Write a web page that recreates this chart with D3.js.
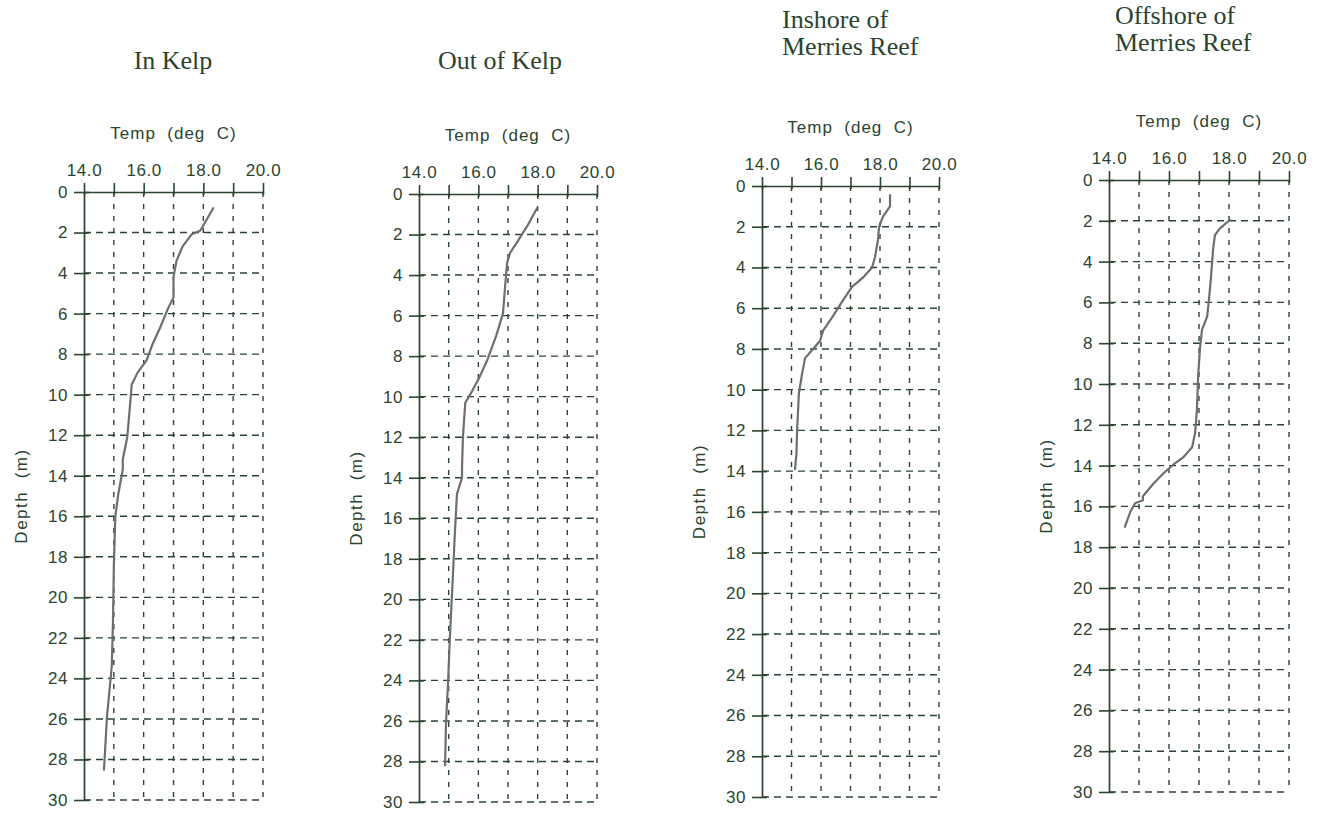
<!DOCTYPE html>
<html>
<head>
<meta charset="utf-8">
<script src="https://cdn.jsdelivr.net/npm/d3@7"></script>
<style>
  html, body { margin: 0; padding: 0; background: #ffffff; }
  svg { display: block; }
</style>
</head>
<body>
<svg id="chart" width="1322" height="813"></svg>
<script>
// Temperature profiles (temperature in deg C against depth in m) at four stations.
const tempTicks = [14, 15, 16, 17, 18, 19, 20];
const tempLabelTicks = [14, 16, 18, 20];
const depthTicks = [0, 2, 4, 6, 8, 10, 12, 14, 16, 18, 20, 22, 24, 26, 28, 30];

const stationTitles = [
  ["In Kelp"],
  ["Out of Kelp"],
  ["Inshore of", "Merries Reef"],
  ["Offshore of", "Merries Reef"]
];

// In Kelp
const inKelpDepth = [0.8, 1.9, 2.1, 2.7, 3.4, 4.2, 5.2, 5.8, 6.7, 7.5, 8.3, 8.9, 9.5, 10.4, 12.1, 13.2, 13.7, 14.9, 16.0, 18.5, 21.3, 23.4, 25.9, 28.5];
const inKelpTemp  = [18.33, 17.9, 17.6, 17.3, 17.1, 17.0, 17.0, 16.8, 16.55, 16.3, 16.1, 15.8, 15.6, 15.55, 15.45, 15.3, 15.3, 15.15, 15.05, 15.0, 14.97, 14.93, 14.77, 14.67];

// Out of Kelp
const outKelpDepth = [0.7, 1.6, 2.3, 2.9, 3.4, 4.6, 5.9, 7.0, 8.2, 9.0, 9.7, 10.3, 12.0, 13.5, 14.0, 14.8, 16.7, 18.9, 21.9, 24.1, 26.1, 28.2];
const outKelpTemp  = [17.98, 17.64, 17.34, 17.07, 16.97, 16.9, 16.83, 16.6, 16.3, 16.05, 15.8, 15.56, 15.48, 15.45, 15.45, 15.28, 15.21, 15.14, 15.04, 14.98, 14.91, 14.88];

// Inshore of Merries Reef
const inshoreDepth = [0.45, 1.0, 1.5, 2.0, 2.65, 3.5, 4.0, 4.5, 4.95, 5.6, 6.4, 7.1, 7.6, 8.0, 8.45, 9.2, 10.2, 12.0, 13.1, 13.9];
const inshoreTemp  = [18.34, 18.34, 18.1, 17.97, 17.93, 17.83, 17.73, 17.42, 17.05, 16.75, 16.4, 16.07, 15.97, 15.73, 15.46, 15.36, 15.25, 15.19, 15.17, 15.12];

// Offshore of Merries Reef
const offshoreDepth = [1.96, 2.37, 2.7, 3.4, 4.75, 5.9, 6.7, 7.35, 8.3, 9.65, 11.3, 12.4, 13.1, 13.6, 13.97, 14.4, 14.9, 15.5, 15.7, 15.85, 16.3, 17.0];
const offshoreTemp  = [18.03, 17.7, 17.53, 17.47, 17.4, 17.33, 17.27, 17.1, 17.03, 16.97, 16.93, 16.87, 16.77, 16.47, 16.13, 15.8, 15.47, 15.13, 15.13, 14.87, 14.7, 14.53];

const profiles = [
  { temp: inKelpTemp,   depth: inKelpDepth },
  { temp: outKelpTemp,  depth: outKelpDepth },
  { temp: inshoreTemp,  depth: inshoreDepth },
  { temp: offshoreTemp, depth: offshoreDepth }
];

// Panel frames on the page
const frames = [
  { x0: 84,   x1: 263,  y0: 192, y1: 800, title: { x: 173, y: 69, anchor: "middle" } },
  { x0: 419,  x1: 597,  y0: 194, y1: 802, title: { x: 500, y: 69, anchor: "middle" } },
  { x0: 762,  x1: 939,  y0: 186, y1: 797, title: { x: 782, y: 28, anchor: "start" } },
  { x0: 1109, x1: 1289, y0: 180, y1: 792, title: { x: 1115, y: 24, anchor: "start" } }
];

const ink = "#2b4430";
const sansFont = "'Liberation Sans', Arial, sans-serif";
const serifFont = "'Liberation Serif', 'Times New Roman', serif";

const svg = d3.select("#chart");

frames.forEach((f, i) => {
  const x = d3.scaleLinear().domain([14, 20]).range([f.x0, f.x1]);
  const y = d3.scaleLinear().domain([0, 30]).range([f.y0, f.y1]);
  const g = svg.append("g");

  // Title
  const title = g.append("text")
    .attr("x", f.title.x)
    .attr("y", f.title.y)
    .attr("text-anchor", f.title.anchor)
    .attr("fill", ink)
    .style("font-family", serifFont)
    .style("font-size", "26px");
  stationTitles[i].forEach((line, k) => {
    title.append("tspan")
      .attr("x", f.title.x)
      .attr("dy", k === 0 ? 0 : 27)
      .text(line);
  });

  // Dashed grid
  g.append("g").selectAll("line")
    .data(tempTicks.filter(t => t > 14))
    .join("line")
    .attr("x1", d => x(d)).attr("x2", d => x(d))
    .attr("y1", f.y0).attr("y2", f.y1)
    .attr("stroke", ink).attr("stroke-width", 1.4)
    .attr("stroke-dasharray", "5,7");

  g.append("g").selectAll("line")
    .data(depthTicks.filter(d => d > 0))
    .join("line")
    .attr("x1", f.x0).attr("x2", f.x1)
    .attr("y1", d => y(d)).attr("y2", d => y(d))
    .attr("stroke", ink).attr("stroke-width", 1.4)
    .attr("stroke-dasharray", "7,5");

  // Top temperature axis
  const topAxis = g.append("g")
    .attr("transform", `translate(0,${f.y0})`)
    .call(d3.axisTop(x)
      .tickValues(tempTicks)
      .tickSize(9)
      .tickSizeOuter(0)
      .tickPadding(7)
      .tickFormat(d => tempLabelTicks.includes(d) ? d3.format(".1f")(d) : ""));
  topAxis.select(".domain").attr("stroke", ink).attr("stroke-width", 1.7);
  topAxis.selectAll(".tick line").attr("stroke", ink).attr("stroke-width", 1.6).attr("y1", 3);
  topAxis.selectAll(".tick text")
    .attr("fill", ink)
    .style("font-family", sansFont)
    .style("font-size", "17px")
    .style("letter-spacing", "0.6px");

  // Left depth axis
  const leftAxis = g.append("g")
    .attr("transform", `translate(${f.x0},0)`)
    .call(d3.axisLeft(y)
      .tickValues(depthTicks)
      .tickSize(10)
      .tickSizeOuter(0)
      .tickPadding(6)
      .tickFormat(d3.format("d")));
  leftAxis.select(".domain").attr("stroke", ink).attr("stroke-width", 1.7);
  leftAxis.selectAll(".tick line").attr("stroke", ink).attr("stroke-width", 1.6).attr("x1", 5);
  leftAxis.selectAll(".tick text")
    .attr("fill", ink)
    .style("font-family", sansFont)
    .style("font-size", "17px")
    .style("letter-spacing", "0.6px");

  // Axis titles
  g.append("text")
    .attr("x", (f.x0 + f.x1) / 2)
    .attr("y", f.y0 - 53)
    .attr("text-anchor", "middle")
    .attr("fill", ink)
    .attr("xml:space", "preserve")
    .style("white-space", "pre")
    .style("font-family", sansFont)
    .style("font-size", "17px")
    .style("letter-spacing", "1px")
    .text("Temp  (deg  C)");

  g.append("text")
    .attr("transform", `translate(${f.x0 - 57},${(f.y0 + f.y1) / 2}) rotate(-90)`)
    .attr("text-anchor", "middle")
    .attr("fill", ink)
    .attr("xml:space", "preserve")
    .style("white-space", "pre")
    .style("font-family", sansFont)
    .style("font-size", "17px")
    .style("letter-spacing", "1.5px")
    .text("Depth  (m)");

  // Temperature profile
  const p = profiles[i];
  const pts = p.depth.map((d, k) => [p.temp[k], d]);
  g.append("path")
    .datum(pts)
    .attr("fill", "none")
    .attr("stroke", "#6e6e6e")
    .attr("stroke-width", 2.2)
    .attr("stroke-linejoin", "round")
    .attr("stroke-linecap", "round")
    .attr("d", d3.line().x(d => x(d[0])).y(d => y(d[1])).curve(d3.curveLinear));
});
</script>
</body>
</html>
